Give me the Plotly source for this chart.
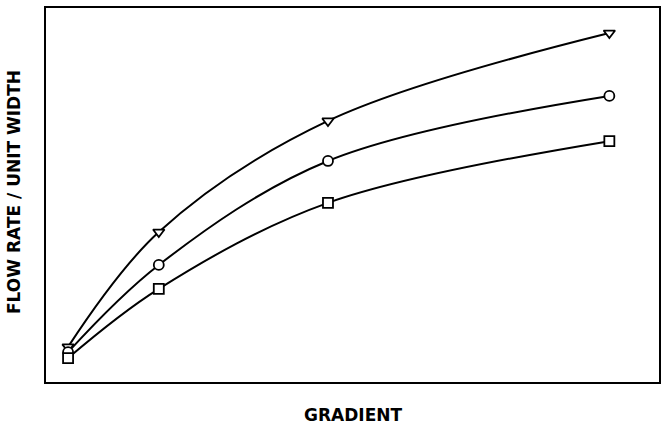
import plotly.graph_objects as go

gradient = [0.36, 1.84, 4.60, 9.19]
flow_triangle = [0.94, 4.01, 6.98, 9.33]
flow_circle = [0.80, 3.13, 5.91, 7.65]
flow_square = [0.64, 2.49, 4.79, 6.44]

series = [
    ("triangle-down", flow_triangle),
    ("circle", flow_circle),
    ("square", flow_square),
]

FONT = "'DejaVu Sans', Verdana, sans-serif"

fig = go.Figure()
for sym, vals in series:
    fig.add_trace(go.Scatter(
        x=gradient, y=vals, mode="lines",
        line=dict(color="black", width=2, shape="spline", smoothing=1),
        showlegend=False, hoverinfo="skip",
    ))
for sym, vals in series:
    fig.add_trace(go.Scatter(
        x=gradient, y=vals, mode="markers",
        marker=dict(symbol=sym, size=10, color="white",
                    line=dict(color="black", width=1.8)),
        showlegend=False,
    ))

fig.update_layout(
    width=662, height=429,
    margin=dict(l=46, r=1, t=8, b=47),
    paper_bgcolor="white", plot_bgcolor="white",
    xaxis=dict(range=[0, 10], showticklabels=False, ticks="", showgrid=False,
               zeroline=False, showline=True, mirror=True, linecolor="black", linewidth=2),
    yaxis=dict(range=[0, 10], showticklabels=False, ticks="", showgrid=False,
               zeroline=False, showline=True, mirror=True, linecolor="black", linewidth=2),
    font=dict(family=FONT, color="black"),
    annotations=[
        dict(text="<b>GRADIENT</b>", xref="paper", yref="paper", x=0.5, y=0,
             yshift=-33, showarrow=False, font=dict(size=17, family=FONT),
             xanchor="center", yanchor="middle"),
        dict(text="<b>FLOW RATE / UNIT WIDTH</b>", xref="paper", yref="paper", x=0, y=0.508,
             xshift=-32, textangle=-90, showarrow=False, font=dict(size=17, family=FONT),
             xanchor="center", yanchor="middle"),
    ],
)

fig.write_html("out.html", post_script="document.body.style.margin='0';",
               config={"displayModeBar": False})
